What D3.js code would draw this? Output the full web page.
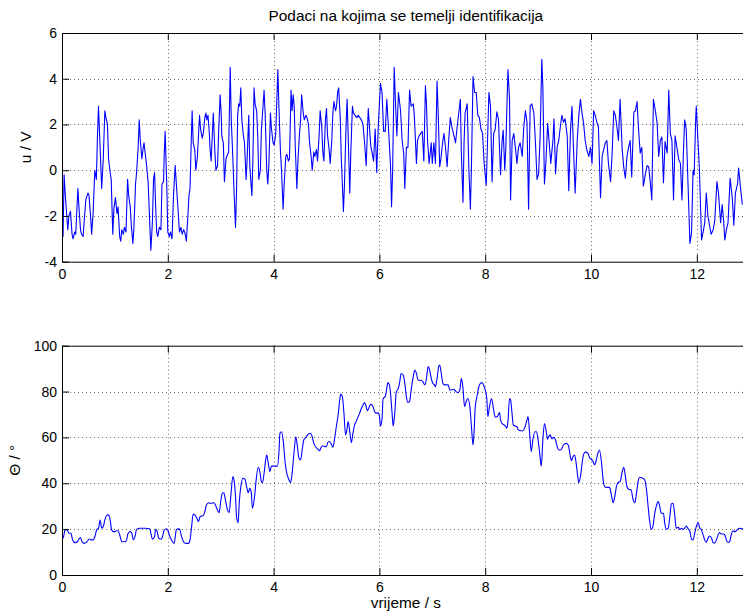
<!DOCTYPE html>
<html>
<head>
<meta charset="utf-8">
<script src="https://cdn.jsdelivr.net/npm/d3@7"></script>
<style>
  html, body { margin: 0; padding: 0; background: #fff; }
  svg text { font-family: "Liberation Sans", Arial, Helvetica, sans-serif; }
</style>
</head>
<body>
<svg id="chart" width="743" height="615"></svg>
<script>
// ---------------- data ----------------
const titleText = "Podaci na kojima se temelji identifikacija";
const uLabel = "u / V";
const thetaLabel = "\u0398 / \u00B0";
const xLabel = "vrijeme / s";

const xTicks = [0, 2, 4, 6, 8, 10, 12];
const uTicks = [-4, -2, 0, 2, 4, 6];
const thetaTicks = [0, 20, 40, 60, 80, 100];
const xDomain = [0, 13];
const uDomain = [-4, 6];
const thetaDomain = [0, 100];

const uTime = [
0.00,0.02,0.04,0.06,0.09,0.11,0.13,0.16,0.19,0.21,0.24,0.26,0.30,0.32,0.35,0.37,0.40,0.42,0.45,0.49,
0.51,0.54,0.56,0.59,0.62,0.65,0.67,0.69,0.72,0.75,0.78,0.81,0.83,0.86,0.88,0.91,0.93,0.96,0.98,1.01,
1.04,1.06,1.09,1.11,1.13,1.16,1.18,1.21,1.24,1.26,1.29,1.31,1.34,1.36,1.39,1.41,1.44,1.46,1.48,1.51,
1.53,1.55,1.58,1.60,1.63,1.66,1.68,1.71,1.73,1.75,1.77,1.79,1.81,1.84,1.87,1.89,1.92,1.93,1.95,1.98,
2.00,2.03,2.05,2.08,2.11,2.14,2.17,2.19,2.22,2.25,2.27,2.30,2.33,2.35,2.38,2.40,2.42,2.44,2.46,2.48,
2.51,2.53,2.56,2.60,2.62,2.65,2.67,2.70,2.72,2.74,2.76,2.78,2.80,2.82,2.84,2.86,2.89,2.91,2.94,2.96,
2.99,3.01,3.02,3.05,3.07,3.10,3.13,3.15,3.18,3.20,3.23,3.25,3.28,3.30,3.32,3.34,3.36,3.38,3.40,3.43,
3.45,3.48,3.50,3.53,3.55,3.57,3.59,3.61,3.63,3.65,3.68,3.70,3.72,3.75,3.77,3.80,3.82,3.84,3.87,3.89,
3.91,3.94,3.96,3.99,4.01,4.04,4.06,4.08,4.10,4.13,4.15,4.18,4.20,4.23,4.25,4.28,4.30,4.33,4.35,4.37,
4.39,4.41,4.44,4.46,4.49,4.51,4.53,4.56,4.58,4.61,4.63,4.66,4.68,4.71,4.73,4.76,4.78,4.81,4.83,4.86,
4.88,4.91,4.93,4.95,4.98,5.00,5.02,5.05,5.07,5.10,5.12,5.14,5.17,5.19,5.21,5.23,5.26,5.28,5.30,5.32,
5.34,5.37,5.39,5.41,5.44,5.46,5.49,5.51,5.54,5.57,5.60,5.63,5.66,5.69,5.72,5.75,5.77,5.79,5.82,5.84,
5.86,5.89,5.92,5.95,5.98,6.02,6.05,6.08,6.11,6.14,6.18,6.21,6.23,6.25,6.28,6.30,6.33,6.36,6.40,6.43,
6.46,6.48,6.51,6.54,6.57,6.60,6.64,6.66,6.70,6.72,6.75,6.78,6.81,6.84,6.87,6.89,6.91,6.94,6.98,7.00,
7.03,7.06,7.09,7.11,7.14,7.16,7.20,7.22,7.25,7.28,7.31,7.34,7.37,7.40,7.44,7.47,7.50,7.53,7.55,7.58,
7.60,7.62,7.66,7.69,7.72,7.74,7.77,7.80,7.83,7.86,7.89,7.92,7.95,7.98,8.02,8.03,8.07,8.10,8.13,8.16,
8.19,8.22,8.25,8.29,8.32,8.34,8.37,8.39,8.43,8.46,8.48,8.51,8.54,8.57,8.60,8.63,8.66,8.70,8.73,8.76,
8.79,8.82,8.85,8.88,8.92,8.95,8.98,9.01,9.04,9.07,9.09,9.12,9.15,9.18,9.21,9.24,9.28,9.30,9.33,9.36,
9.39,9.42,9.45,9.48,9.51,9.55,9.58,9.61,9.64,9.67,9.70,9.74,9.77,9.80,9.83,9.86,9.89,9.92,9.96,9.99,
10.02,10.05,10.08,10.11,10.14,10.18,10.21,10.24,10.27,10.30,10.33,10.37,10.40,10.43,10.46,10.49,10.52,10.55,10.59,10.62,
10.65,10.68,10.71,10.74,10.77,10.81,10.84,10.87,10.90,10.93,10.96,10.99,11.03,11.06,11.09,11.12,11.15,11.18,11.22,11.25,
11.28,11.31,11.34,11.37,11.40,11.44,11.47,11.50,11.53,11.56,11.59,11.63,11.66,11.69,11.72,11.75,11.77,11.80,11.85,11.87,
11.90,11.93,11.95,11.98,11.99,12.05,12.09,12.12,12.15,12.18,12.21,12.27,12.31,12.34,12.38,12.41,12.45,12.48,12.51,12.53,
12.56,12.59,12.63,12.67,12.70,12.73,12.77,12.79,12.83,12.86
];
const uValue = [
-1.4,-2.9,-0.2,-1.0,-2.0,-2.6,-2.0,-1.8,-2.8,-3.0,-2.7,-2.8,-0.8,-1.6,-2.6,-2.8,-2.9,-2.2,-1.3,-1.0,
-1.1,-2.0,-2.8,-1.8,0.0,-0.4,1.5,2.8,1.0,-0.8,0.5,2.6,2.3,2.0,0.5,-0.1,-0.4,-2.8,-1.7,-1.2,
-1.9,-1.6,-2.9,-3.1,-2.6,-2.8,-2.5,-2.7,-0.4,-1.1,-1.6,-2.4,-3.2,-2.5,-0.6,-0.1,1.0,2.2,1.3,0.5,
0.9,1.2,0.6,0.2,-0.6,-2.4,-3.5,-2.2,-0.4,-0.1,-1.6,-2.7,-2.9,-2.5,-2.6,-0.6,-0.5,0.5,1.7,-0.6,
-2.7,-2.9,-2.7,-3.0,-1.0,0.2,-0.9,-1.6,-2.7,-2.5,-2.8,-2.6,-2.8,-3.1,-2.0,-1.1,-0.8,1.0,2.6,1.2,
0.9,0.0,0.6,2.4,1.8,1.4,1.6,2.3,2.5,2.2,2.4,1.8,0.9,0.4,1.5,2.5,0.8,0.0,0.2,1.6,
3.3,2.4,1.5,1.2,-0.5,0.5,0.7,0.8,4.5,2.2,0.5,-0.8,-2.5,-0.9,2.4,2.9,2.8,3.6,2.2,1.5,
1.2,-0.4,0.5,2.4,0.2,-0.5,-1.1,0.6,3.6,2.9,2.6,1.5,-0.4,0.0,1.8,2.8,3.5,2.5,0.0,-0.6,
0.2,2.5,1.8,1.2,1.1,1.6,3.0,4.4,2.8,0.8,0.0,-1.7,-0.6,0.6,0.7,0.4,0.5,3.5,2.6,3.3,
2.8,1.0,-0.8,0.4,1.6,2.2,3.3,2.5,2.2,2.4,2.3,2.0,1.2,0.6,0.0,0.8,0.6,0.9,0.4,1.5,
2.6,1.9,0.8,0.4,2.2,2.7,1.5,0.9,0.3,1.3,2.5,3.0,2.6,2.8,3.4,3.6,2.3,0.5,-0.6,-1.8,
-0.6,2.0,3.1,1.5,-1.0,0.8,2.8,2.5,2.4,2.3,2.4,2.3,2.2,2.0,1.2,0.2,1.5,2.7,1.6,1.0,
0.8,0.4,1.8,-0.1,2.0,3.8,3.4,1.7,1.7,3.1,1.5,0.2,-1.6,0.0,4.5,3.2,1.5,3.4,2.6,1.3,
0.7,-0.8,1.0,1.0,3.5,2.8,2.9,2.4,0.3,1.3,1.5,1.6,1.7,0.4,3.7,2.9,1.3,0.3,1.2,0.3,
1.2,0.3,3.9,2.6,0.15,0.45,1.3,1.6,1.0,0.15,1.3,2.3,1.9,1.6,1.2,1.9,2.5,3.1,0.7,-1.4,
1.2,2.5,2.9,0.15,-1.7,0.15,4.1,3.4,3.4,2.4,2.3,1.8,1.6,0.3,-0.65,0.15,3.4,2.8,-0.5,1.6,
1.8,2.55,2.25,-0.2,1.3,1.75,0.0,1.0,4.4,3.1,-1.3,1.3,1.6,1.0,0.3,1.0,1.2,0.6,1.9,2.6,
2.1,-1.7,2.8,2.9,2.5,1.2,-0.4,-0.15,1.6,4.85,3.65,-0.6,0.45,2.05,1.2,0.3,1.3,2.25,-0.15,1.0,
1.3,1.9,2.4,2.1,2.25,1.5,-0.9,1.6,2.8,0.9,-1.0,1.3,2.4,3.1,2.5,2.05,1.3,0.9,0.6,1.0,
0.3,2.6,2.4,2.1,1.9,-1.2,0.6,0.9,1.2,1.3,0.3,-0.5,0.75,2.6,2.4,1.9,1.3,3.1,0.9,0.1,
-0.35,0.6,1.0,1.3,-0.3,2.55,2.6,3.0,1.75,0.75,1.0,-0.7,-0.15,0.2,0.15,-0.5,-1.3,3.1,2.55,2.05,
0.6,1.3,1.45,-0.55,1.25,0.75,3.5,1.6,1.3,-1.3,1.5,0.9,0.45,0.3,-1.3,1.0,2.2,1.8,-1.75,-3.2,
-2.75,0.0,-0.2,2.3,2.8,0.0,-3.05,-2.7,-2.3,-1.0,-2.0,-2.8,-2.6,-2.2,-0.5,-1.0,-2.3,-1.5,-2.3,-3.05,
-2.6,-2.3,-0.35,-1.2,-2.4,-1.0,-0.6,0.1,-0.85,-1.5
];

const thetaTime = [
0.00,0.03,0.06,0.10,0.13,0.17,0.20,0.25,0.29,0.33,0.35,0.38,0.42,0.47,0.52,0.55,0.59,0.62,0.66,0.69,
0.72,0.75,0.78,0.81,0.84,0.88,0.91,0.94,0.97,1.00,1.03,1.06,1.10,1.13,1.19,1.22,1.25,1.29,1.32,1.35,
1.38,1.41,1.47,1.57,1.66,1.68,1.71,1.75,1.77,1.80,1.83,1.87,1.90,1.93,1.98,2.01,2.04,2.07,2.12,2.16,
2.20,2.23,2.26,2.31,2.34,2.39,2.42,2.45,2.48,2.51,2.55,2.58,2.61,2.64,2.67,2.70,2.73,2.77,2.80,2.83,
2.87,2.90,2.94,2.97,3.00,3.03,3.06,3.09,3.13,3.16,3.19,3.23,3.25,3.28,3.30,3.33,3.35,3.38,3.42,3.46,
3.49,3.52,3.55,3.58,3.60,3.64,3.67,3.71,3.74,3.77,3.79,3.82,3.85,3.87,3.90,3.93,3.96,4.03,4.07,4.10,
4.12,4.15,4.18,4.22,4.25,4.28,4.32,4.35,4.39,4.42,4.45,4.48,4.51,4.54,4.57,4.62,4.66,4.70,4.73,4.76,
4.80,4.84,4.87,4.90,4.93,4.97,5.00,5.03,5.06,5.09,5.12,5.15,5.19,5.22,5.25,5.27,5.30,5.33,5.36,5.39,
5.41,5.44,5.47,5.50,5.53,5.56,5.60,5.63,5.66,5.69,5.72,5.75,5.77,5.80,5.82,5.85,5.88,5.91,5.94,5.97,
6.00,6.02,6.05,6.07,6.11,6.14,6.16,6.19,6.21,6.24,6.26,6.29,6.32,6.35,6.38,6.41,6.45,6.48,6.51,6.54,
6.57,6.60,6.64,6.67,6.70,6.73,6.79,6.82,6.86,6.89,6.92,6.95,6.98,7.01,7.04,7.06,7.09,7.12,7.14,7.17,
7.20,7.23,7.30,7.33,7.36,7.39,7.42,7.45,7.49,7.52,7.55,7.58,7.61,7.64,7.67,7.71,7.74,7.77,7.79,7.81,
7.85,7.88,7.91,7.94,7.97,8.00,8.03,8.05,8.08,8.12,8.14,8.17,8.19,8.23,8.27,8.29,8.32,8.36,8.38,8.41,
8.43,8.46,8.48,8.51,8.53,8.57,8.61,8.62,8.67,8.71,8.75,8.79,8.81,8.84,8.87,8.90,8.94,8.97,9.00,9.03,
9.06,9.09,9.12,9.16,9.18,9.20,9.23,9.26,9.29,9.33,9.36,9.39,9.42,9.45,9.48,9.53,9.57,9.60,9.63,9.66,
9.69,9.72,9.75,9.77,9.81,9.84,9.87,9.90,9.94,9.98,10.01,10.04,10.07,10.10,10.13,10.16,10.20,10.23,10.26,10.30,
10.35,10.38,10.42,10.45,10.48,10.51,10.55,10.59,10.62,10.65,10.68,10.71,10.76,10.79,10.83,10.86,10.89,10.92,10.96,11.01,
11.05,11.08,11.11,11.14,11.17,11.20,11.24,11.27,11.30,11.33,11.37,11.39,11.42,11.46,11.49,11.52,11.55,11.58,11.61,11.65,
11.68,11.71,11.74,11.77,11.80,11.83,11.87,11.90,11.93,11.96,11.99,12.03,12.05,12.09,12.12,12.15,12.18,12.21,12.24,12.28,
12.31,12.34,12.37,12.40,12.43,12.46,12.50,12.53,12.56,12.59,12.62,12.65,12.68,12.72,12.75,12.78,12.81,12.84,12.87
];
const thetaValue = [
15.6,16.7,19.9,19.6,18.2,18.2,15.3,14.1,14.5,16.0,16.3,14.5,13.8,14.5,15.7,15.3,15.3,16.7,19.9,20.4,
24.0,20.4,21.1,24.0,25.9,26.2,24.0,19.6,18.9,18.9,19.3,19.3,16.7,14.5,14.5,15.3,18.2,18.9,18.2,15.3,
16.7,19.9,20.4,20.4,20.2,18.2,15.6,16.7,19.9,18.9,16.0,15.6,16.7,19.6,20.2,18.9,16.7,15.3,13.8,19.6,
20.1,19.6,16.7,14.1,13.8,13.8,15.3,21.1,26.6,26.2,24.7,23.3,25.4,25.7,25.9,27.6,30.5,31.5,31.3,31.3,
31.5,30.5,28.3,27.2,32.0,35.6,35.9,32.7,28.3,27.2,34.2,42.9,41.7,34.2,25.4,22.8,31.3,38.5,42.2,41.7,
38.5,35.9,37.8,35.6,29.1,34.2,41.4,47.0,45.1,40.7,40.3,44.3,50.2,52.3,48.7,45.1,47.5,47.5,47.5,53.1,
61.8,62.5,58.9,48.7,44.3,42.2,40.3,44.3,54.5,60.3,56.0,50.9,50.2,54.5,58.9,60.3,61.5,61.8,60.3,57.4,
55.7,54.8,54.2,55.7,56.4,56.0,56.0,58.1,58.1,57.1,55.7,58.9,65.4,69.8,76.3,78.9,77.8,70.5,61.1,64.0,
66.9,62.5,57.7,61.8,65.4,66.9,69.1,70.8,72.7,74.1,75.2,73.4,71.7,72.7,74.1,74.4,73.4,71.2,70.5,70.8,
69.3,65.0,68.3,77.0,77.8,81.4,83.9,82.9,79.2,70.5,65.0,70.5,80.0,81.0,83.6,87.9,87.2,83.6,77.8,75.2,
75.6,80.7,86.5,89.4,87.9,85.0,84.8,84.3,82.9,85.8,90.9,89.4,85.8,83.6,82.9,82.1,85.8,90.9,91.6,87.9,
83.6,82.9,82.9,80.7,80.7,81.0,80.7,80.0,79.5,80.7,85.8,81.4,73.4,75.6,77.0,73.4,64.7,56.7,62.5,72.7,
78.5,82.1,83.6,83.9,82.9,80.7,77.0,69.1,73.4,77.0,74.9,70.5,68.8,69.1,70.8,67.6,66.1,65.4,65.0,64.0,
66.9,77.0,76.3,69.8,65.4,65.0,64.4,63.5,62.9,62.9,64.4,67.6,69.1,61.8,53.8,58.9,62.5,62.5,58.9,53.1,
47.5,58.9,66.1,61.8,59.2,60.3,61.1,59.3,60.0,58.9,56.0,54.5,54.5,55.2,56.7,57.4,56.7,53.1,49.9,51.6,
52.3,48.7,42.9,40.3,44.3,50.2,53.1,53.6,53.1,50.9,50.4,49.4,48.0,50.2,53.1,54.5,48.7,41.4,38.5,38.2,
38.2,35.6,31.5,34.2,38.5,40.3,40.7,45.1,47.0,42.9,38.5,37.4,37.1,33.4,31.5,35.6,40.7,42.6,42.4,41.7,
37.1,29.8,23.3,19.9,21.1,26.2,30.5,32.0,29.8,26.9,26.9,23.3,19.9,20.4,25.4,31.0,31.3,26.9,20.4,20.8,
19.9,20.4,19.9,20.4,21.4,20.4,18.9,15.6,15.3,18.2,21.1,22.8,20.8,19.6,17.4,15.3,14.2,16.0,17.0,16.0,
14.1,14.0,15.3,17.4,18.5,17.9,17.9,17.4,15.3,14.2,14.5,17.4,19.3,18.9,19.3,20.1,20.4,20.1,20.4
];

// ---------------- layout ----------------
const svg = d3.select("#chart");
const fontSize = 14;
const labelFontSize = 15.4;
const plotLeft = 62, plotRight = 749.7;
const panels = [
  { top: 33, bottom: 261.7, domain: uDomain, ticks: uTicks, label: uLabel, labelX: 26,
    time: uTime, values: uValue, curve: d3.curveLinear },
  { top: 345.7, bottom: 575, domain: thetaDomain, ticks: thetaTicks, label: thetaLabel, labelX: 15,
    time: thetaTime, values: thetaValue, curve: d3.curveMonotoneX }
];

const x = d3.scaleLinear().domain(xDomain).range([plotLeft, plotRight]);

svg.append("rect").attr("width", 743).attr("height", 615).attr("fill", "#fff");

panels.forEach((p, pi) => {
  const y = d3.scaleLinear().domain(p.domain).range([p.bottom, p.top]);
  const g = svg.append("g");

  // grid
  const grid = g.append("g").attr("stroke", "#444").attr("stroke-width", 0.8)
    .attr("stroke-dasharray", "1,3");
  grid.selectAll("line.vx").data(xTicks.filter(d => d > xDomain[0])).join("line")
    .attr("x1", d => Math.round(x(d)) + 0.5).attr("x2", d => Math.round(x(d)) + 0.5)
    .attr("y1", p.top).attr("y2", p.bottom);
  grid.selectAll("line.hy").data(p.ticks.filter(d => d > p.domain[0] && d < p.domain[1])).join("line")
    .attr("x1", plotLeft).attr("x2", plotRight)
    .attr("y1", d => Math.round(y(d)) + 0.5).attr("y2", d => Math.round(y(d)) + 0.5);

  // data line
  const clipId = "clip" + pi;
  svg.append("clipPath").attr("id", clipId).append("rect")
    .attr("x", plotLeft).attr("y", p.top).attr("width", plotRight - plotLeft).attr("height", p.bottom - p.top);
  const pts = p.time.map((t, i) => [t, p.values[i]]);
  g.append("path").datum(pts)
    .attr("clip-path", `url(#${clipId})`)
    .attr("fill", "none").attr("stroke", "#0000ff").attr("stroke-width", 1.1)
    .attr("stroke-linejoin", "round")
    .attr("d", d3.line().x(d => x(d[0])).y(d => y(d[1])).curve(p.curve));

  // axes
  const axStyle = sel => {
    sel.selectAll("path.domain").attr("stroke", "#000");
    sel.selectAll(".tick line").attr("stroke", "#000");
    sel.selectAll("text").attr("font-size", fontSize).attr("fill", "#000")
      .attr("font-family", "'Liberation Sans', Arial, sans-serif");
  };
  g.append("g").attr("transform", `translate(0,${p.bottom})`)
    .call(d3.axisBottom(x).tickValues(xTicks).tickFormat(d3.format("d"))
      .tickSizeInner(-7).tickSizeOuter(0).tickPadding(7))
    .call(axStyle);
  g.append("g").attr("transform", `translate(0,${p.top})`)
    .call(d3.axisTop(x).tickValues(xTicks).tickFormat("")
      .tickSizeInner(-7).tickSizeOuter(0))
    .call(axStyle);
  g.append("g").attr("transform", `translate(${plotLeft},0)`)
    .call(d3.axisLeft(y).tickValues(p.ticks).tickFormat(d => d < 0 ? "-" + Math.abs(d) : d)
      .tickSizeInner(-7).tickSizeOuter(0).tickPadding(5))
    .call(axStyle);
  g.append("g").attr("transform", `translate(${plotRight},0)`)
    .call(d3.axisRight(y).tickValues(p.ticks).tickFormat("")
      .tickSizeInner(-7).tickSizeOuter(0))
    .call(axStyle);

  // y label
  g.append("text")
    .attr("transform", `translate(${p.labelX},${(p.top + p.bottom) / 2}) rotate(-90)`)
    .attr("text-anchor", "middle").attr("dy", "0.35em")
    .attr("font-size", labelFontSize).text(p.label);
});

// title and x label
svg.append("text").attr("x", (plotLeft + plotRight) / 2).attr("y", 21)
  .attr("text-anchor", "middle").attr("font-size", labelFontSize).text(titleText);
svg.append("text").attr("x", (plotLeft + plotRight) / 2).attr("y", 608)
  .attr("text-anchor", "middle").attr("font-size", labelFontSize).text(xLabel);
</script>
</body>
</html>
